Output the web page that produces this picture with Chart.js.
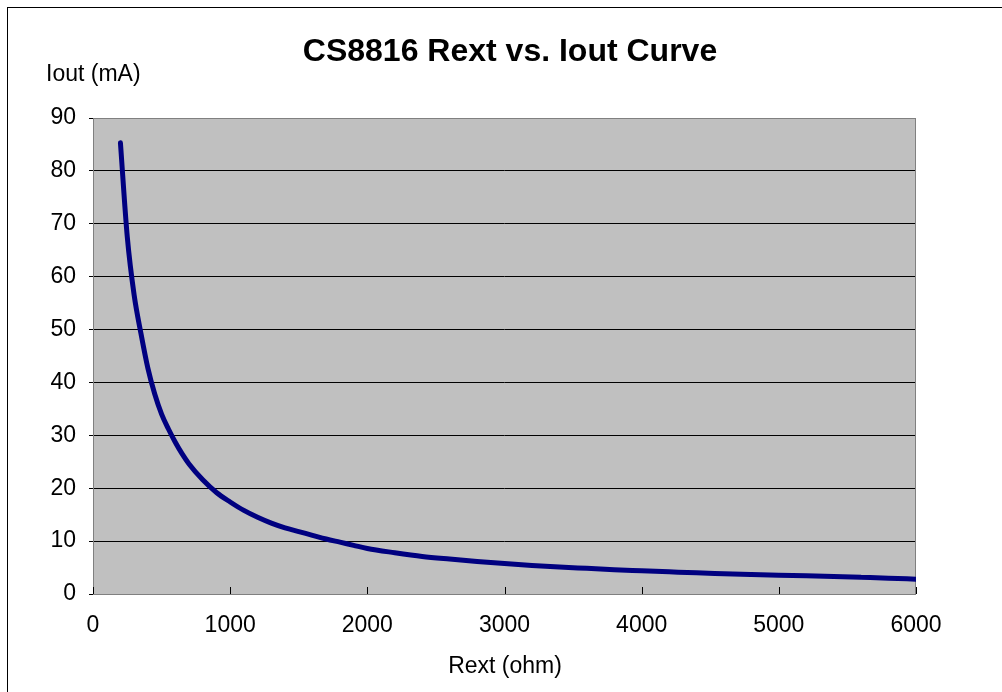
<!DOCTYPE html>
<html>
<head>
<meta charset="utf-8">
<title>CS8816 Rext vs. Iout Curve</title>
<script src="https://cdn.jsdelivr.net/npm/chart.js@4.4.1/dist/chart.umd.min.js"></script>
<style>
  html, body { margin: 0; padding: 0; background: #fff; overflow: hidden; }
  #wrap { position: relative; width: 1002px; height: 692px; }
  #frame { position: absolute; left: 7px; top: 7px; width: 1100px; height: 800px;
           border-left: 1px solid #000; border-top: 1px solid #000; }
  #myChart { position: absolute; left: 0; top: 0; }
</style>
</head>
<body>
<div id="wrap">
  <div id="frame"></div>
  <canvas id="myChart" width="1002" height="692"></canvas>
</div>
<script>
  // Rext (ohm) and Iout (mA)
  const rext = [200, 250, 300, 350, 400, 450, 500, 550, 600, 650, 700, 800, 900, 1000,
    1100, 1200, 1300, 1400, 1500, 1600, 1700, 1800, 1900, 2000,
    2200, 2400, 2600, 2800, 3000, 3200, 3400, 3600, 3800, 4000,
    4200, 4400, 4600, 4800, 5000, 5200, 5400, 5600, 5800, 6000];
  const iout = [85.3, 67.5, 56.5, 49.2, 42.7, 37.8, 34.0, 31.2, 28.7, 26.5, 24.6, 21.6, 19.2, 17.4,
    15.8, 14.5, 13.4, 12.5, 11.8, 11.1, 10.4, 9.8, 9.2, 8.6,
    7.8, 7.1, 6.6, 6.15, 5.75, 5.4, 5.1, 4.85, 4.6, 4.4,
    4.2, 4.0, 3.85, 3.7, 3.55, 3.45, 3.3, 3.15, 3.0, 2.8];

  // Axis ranges / tick steps
  const xTicks = [0, 1000, 2000, 3000, 4000, 5000, 6000];
  const yTicks = [0, 10, 20, 30, 40, 50, 60, 70, 80, 90];

  const chartTitle = 'CS8816 Rext vs. Iout Curve';
  const xTitle = 'Rext (ohm)';
  const yTitle = 'Iout (mA)';

  const font = "'Liberation Sans', Arial, sans-serif";

  // gray plot background, frame, inward x ticks, and the texts
  const excelLook = {
    id: 'excelLook',
    beforeDraw: function (chart) {
      const a = chart.chartArea, ctx = chart.ctx;
      ctx.save();
      ctx.fillStyle = '#C0C0C0';
      ctx.fillRect(a.left, a.top, a.right - a.left, a.bottom - a.top);
      ctx.restore();
    },
    beforeDatasetsDraw: function (chart) {
      const a = chart.chartArea, ctx = chart.ctx, xs = chart.scales.x;
      ctx.save();
      ctx.strokeStyle = '#808080';
      ctx.lineWidth = 1;
      ctx.strokeRect(a.left + 0.5, a.top + 0.5, a.right - a.left - 1, a.bottom - a.top);
      ctx.strokeStyle = '#000';
      xTicks.forEach(function (v) {
        const px = Math.round(xs.getPixelForValue(v)) + 0.5;
        ctx.beginPath();
        ctx.moveTo(px, a.bottom);
        ctx.lineTo(px, a.bottom - 7);
        ctx.stroke();
      });
      ctx.restore();
    },
    afterDraw: function (chart) {
      const ctx = chart.ctx;
      ctx.save();
      ctx.fillStyle = '#000';
      ctx.textBaseline = 'middle';
      ctx.font = 'bold 32px ' + font;
      ctx.textAlign = 'center';
      ctx.fillText(chartTitle, 510, 52);
      ctx.font = '23px ' + font;
      ctx.textAlign = 'left';
      ctx.fillText(yTitle, 46, 75);
      ctx.textAlign = 'center';
      ctx.fillText(xTitle, 505, 667);
      ctx.restore();
    }
  };

  const data = {
    datasets: [{
      label: yTitle,
      data: rext.map(function (r, i) { return { x: r, y: iout[i] }; }),
      borderColor: '#000080',
      borderWidth: 5,
      borderCapStyle: 'round',
      borderJoinStyle: 'round',
      pointRadius: 0,
      cubicInterpolationMode: 'monotone',
      fill: false
    }]
  };

  const config = {
    type: 'line',
    data: data,
    plugins: [excelLook],
    options: {
      responsive: false,
      animation: false,
      layout: { padding: { top: 118, right: 86, bottom: 0, left: 0 } },
      plugins: { legend: { display: false }, title: { display: false }, tooltip: { enabled: false } },
      scales: {
        x: {
          type: 'linear',
          min: xTicks[0],
          max: xTicks[xTicks.length - 1],
          afterFit: function (s) { s.height = 98; },
          ticks: {
            stepSize: 1000, padding: 18, color: '#000', maxRotation: 0,
            font: { family: font, size: 23 },
            callback: function (v) { return String(v); }
          },
          grid: { drawOnChartArea: false, drawTicks: false },
          border: { display: false }
        },
        y: {
          min: yTicks[0],
          max: yTicks[yTicks.length - 1],
          afterFit: function (s) { s.width = 93; },
          ticks: {
            stepSize: 10, padding: 13, color: '#000',
            font: { family: font, size: 23 },
            callback: function (v) { return String(v); }
          },
          grid: {
            color: function (c) {
              return (c.tick && (c.tick.value === 0 || c.tick.value === 90)) ? 'rgba(0,0,0,0)' : '#000';
            },
            tickColor: '#000',
            tickLength: 4,
            lineWidth: 1
          },
          border: { display: false }
        }
      }
    }
  };

  const myChart = new Chart(document.getElementById('myChart'), config);
</script>
</body>
</html>
